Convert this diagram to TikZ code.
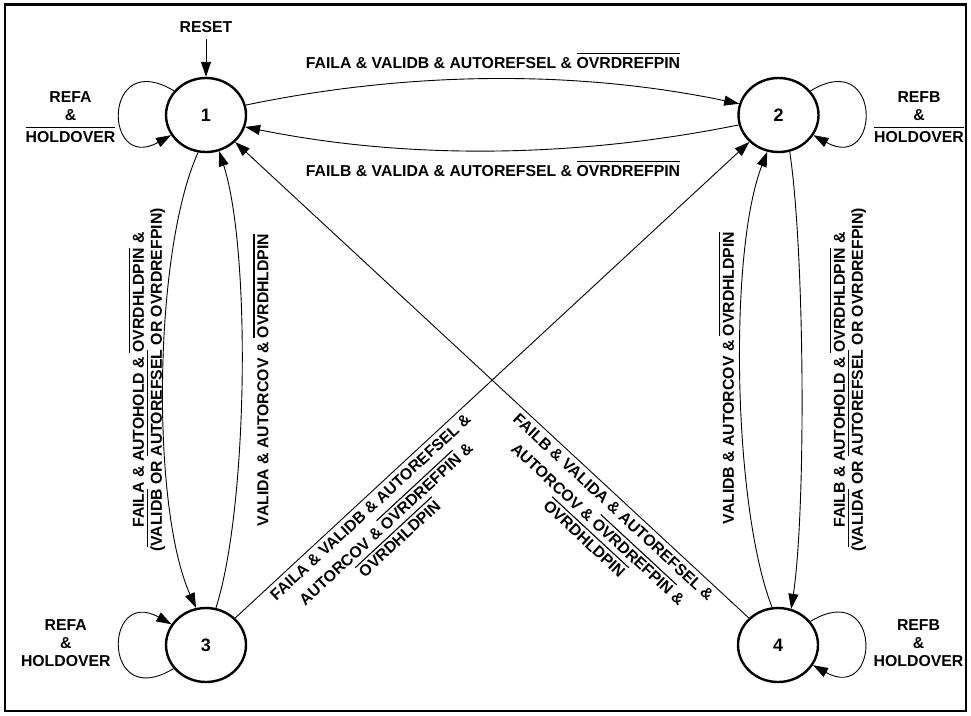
\documentclass[tikz,border=0pt]{standalone}
\usepackage{fontspec}
\setmainfont{Liberation Sans}
\usetikzlibrary{arrows.meta,shapes.geometric}
\newcommand\ovl[1]{\vbox{\hrule height 1.1pt\kern 2.8pt\hbox{#1}}}
\begin{document}
\begin{tikzpicture}[x=1pt,y=1pt,
  state/.style={ellipse, draw, line width=2.4pt, minimum width=80pt, minimum height=74pt, inner sep=0pt, font=\fontsize{18}{20}\selectfont\bfseries},
  lbl1/.style={inner sep=0pt, font=\fontsize{15.8}{18}\selectfont\bfseries},
  lblm/.style={inner sep=0pt, align=center, font=\fontsize{15.8}{18}\selectfont\bfseries},
  lbld/.style={inner sep=0pt, align=center, font=\fontsize{15.8}{20}\selectfont\bfseries},
  edge/.style={line width=0.9pt, -{Triangle[length=15pt,width=10pt]}},
]
\useasboundingbox (0,0) rectangle (971,-715);
\draw[line width=2.5pt] (5,-4.5) rectangle (966,-711);

\node[state] (n1) at (206,-115) {1};
\node[state] (n2) at (778.5,-115) {2};
\node[state] (n3) at (206,-645) {3};
\node[state] (n4) at (778,-645) {4};

\node[lbl1, anchor=base, outer ysep=6pt] (reset) at (206,-32.7) {RESET};
\draw[edge] (reset.south) -- (n1.north);

% top pair
\draw[edge] (n1.14) .. controls +(163,34) and +(-163,34) .. (n2.164);
\draw[edge] (n2.194) .. controls +(-163,-33) and +(163,-33) .. (n1.343);
% left pair
\draw[edge] (n1.258) .. controls +(-45,-100) and +(-45,100) .. (n3.105);
\draw[edge] (n3.75) .. controls +(32,100) and +(32,-100) .. (n1.290);
% right pair
\draw[edge] (n2.287) .. controls +(15,-100) and +(15,100) .. (n4.70);
\draw[edge] (n4.99) .. controls +(-39,100) and +(-39,-100) .. (n2.253);
% diagonals
\draw[edge] (n3) -- (n2);
\draw[edge] (n4) -- (n1);
% loops
\draw[edge] (n1.143) .. controls +(-72,44) and +(-68,-38) .. (n1.210);
\draw[edge] (n2.37) .. controls +(72,44) and +(68,-38) .. (n2.330);
\draw[edge] (n3.216) .. controls +(-72,-44) and +(-68,38) .. (n3.149);
\draw[edge] (n4.36) .. controls +(72,44) and +(68,-38) .. (n4.330);

% labels
\node[lbl1, anchor=base] (t12) at (493,-68) {FAILA \& VALIDB \& AUTOREFSEL \& \ovl{OVRDREFPIN}};
\node[lbl1, anchor=base] (t21) at (493,-176) {FAILB \& VALIDA \& AUTOREFSEL \& \ovl{OVRDREFPIN}};

\node[lblm, rotate=90] (l13) at (147,-380) {FAILA \& AUTOHOLD \& \ovl{OVRDHLDPIN} \&\\(\ovl{VALIDB} OR \ovl{AUTOREFSEL} OR OVRDREFPIN)};
\node[lbl1, rotate=90] (l31) at (261,-380) {VALIDA \& AUTORCOV \& \ovl{OVRDHLDPIN}};
\node[lbl1, rotate=90] (l42) at (726.5,-378) {VALIDB \& AUTORCOV \& \ovl{OVRDHLDPIN}};
\node[lblm, rotate=90] (l24) at (848,-380) {FAILB \& AUTOHOLD \& \ovl{OVRDHLDPIN} \&\\(\ovl{VALIDA} OR \ovl{AUTOREFSEL} OR OVRDREFPIN)};

\node[lbld, rotate=42.8] (l32) at (385,-523) {FAILA \& VALIDB \& AUTOREFSEL \&\\[3pt]AUTORCOV \& \ovl{OVRDREFPIN} \&\\ \ovl{OVRDHLDPIN}};
\node[lbld, rotate=-42.8] (l41) at (599,-523) {FAILB \& VALIDA \& AUTOREFSEL \&\\[3pt]AUTORCOV \& \ovl{OVRDREFPIN} \&\\ \ovl{OVRDHLDPIN}};

\node[lblm] (lp1) at (70.5,-116.7) {REFA\\\&\\[4pt]\ovl{HOLDOVER}};
\node[lblm] (lp2) at (919,-116.7) {REFB\\\&\\[4pt]\ovl{HOLDOVER}};
\node[lblm] (lp3) at (65.8,-643.2) {REFA\\\&\\[0.5pt]HOLDOVER};
\node[lblm] (lp4) at (918.5,-643.2) {REFB\\\&\\[0.5pt]HOLDOVER};
\end{tikzpicture}
\end{document}
